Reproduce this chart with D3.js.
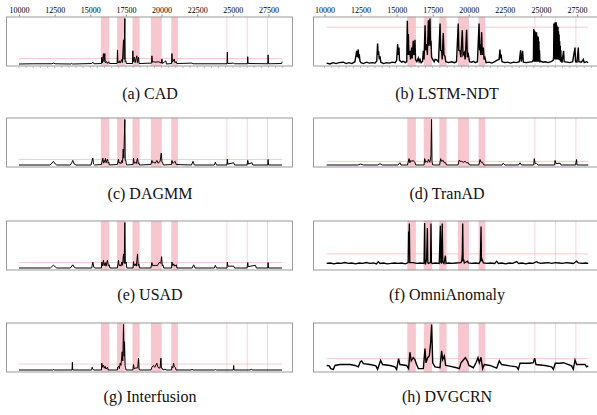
<!DOCTYPE html>
<html><head><meta charset="utf-8">
<script src="https://cdn.jsdelivr.net/npm/d3@7"></script>
<style>
body{margin:0;background:#fff;}
svg{display:block;}
</style></head>
<body><svg id="c" width="597" height="415"></svg>
<script>
// ---------- DATA ----------
const captions = ["(a) CAD","(b) LSTM-NDT","(c) DAGMM","(d) TranAD","(e) USAD","(f) OmniAnomaly","(g) Interfusion","(h) DVGCRN"];
const tickValues = [10000,12500,15000,17500,20000,22500,25000,27500];
const anomalyBands = [[15740,16335],[16880,17460],[17960,18460],[19250,20010],[20680,21145]];
const anomalyLines = [24580,26010,27425];
const thresholds = [0.12,0.81,0.12,0.08,0.12,0.31,0.13,0.25];

const cadScores = [[10000,0],[11000,0.005],[12300,0.005],[12412,0.02],[12530,0.005],[13650,0],[13700,0.015],[13760,0],[15100,0.01],[15176,0.04],[15250,0.005],[15780,0.01],[15808,0.15],[15840,0.02],[15925,0.23],[15960,0.05],[16019,0.23],[16050,0.03],[16159,0.05],[16200,0.01],[16300,0.05],[16340,0.01],[16880,0.01],[16909,0.31],[16940,0.02],[17049,0.07],[17080,0.02],[17213,0.1],[17250,0.03],[17330,0.53],[17370,0.1],[17424,1.0],[17450,0.05],[17494,0.07],[17530,0.01],[17960,0.01],[17986,0.29],[18020,0.05],[18103,0.15],[18140,0.03],[18267,0.18],[18300,0.03],[18384,0.15],[18420,0.01],[19300,0.02],[19321,0.18],[19360,0.04],[19438,0.05],[19600,0.04],[19790,0.05],[19990,0.02],[20024,0.11],[20060,0.01],[20305,0.07],[20340,0.0],[20700,0.01],[20726,0.23],[20760,0.04],[20890,0.11],[20930,0.03],[21031,0.05],[21070,0.01],[22132,0.02],[22200,0.005],[24590,0.005],[24614,0.26],[24640,0.01],[25059,0.02],[25100,0.005],[26020,0.005],[26043,0.16],[26070,0.01],[27450,0.005],[27471,0.2],[27500,0.005],[28420,0.01],[28455,0.05]];

const lstmScores = [[10150,0.02],[10380,0.0],[10600,0.03],[10800,0.01],[11000,0.03],[11310,0.04],[11500,0.01],[11700,0.03],[11900,0.01],[12110,0.05],[12230,0.29],[12280,0.15],[12340,0.32],[12380,0.12],[12410,0.21],[12460,0.06],[12530,0.03],[12700,0.01],[12920,0.04],[13100,0.02],[13300,0.03],[13500,0.02],[13620,0.06],[13680,0.45],[13720,0.2],[13750,0.28],[13800,0.1],[13850,0.17],[13900,0.04],[14100,0.01],[14300,0.03],[14500,0.02],[14700,0.04],[14900,0.03],[15000,0.08],[15070,0.44],[15110,0.2],[15160,0.36],[15200,0.08],[15350,0.04],[15460,0.06],[15600,0.03],[15700,0.05],[15740,0.95],[15780,0.2],[15810,0.66],[15850,0.2],[15920,0.29],[15960,0.1],[16040,0.36],[16080,0.12],[16150,0.51],[16200,0.2],[16270,0.53],[16310,0.1],[16400,0.05],[16500,0.13],[16560,0.05],[16620,0.1],[16700,0.03],[16800,0.06],[16850,0.29],[16900,0.1],[16970,0.85],[17010,0.3],[17080,0.44],[17130,0.2],[17200,0.96],[17240,0.4],[17310,1.0],[17350,0.4],[17380,0.51],[17420,0.15],[17500,0.1],[17600,0.05],[17660,0.1],[17780,0.09],[17900,0.05],[18010,0.89],[18050,0.3],[18120,0.29],[18160,0.1],[18230,0.68],[18280,0.2],[18350,0.17],[18400,0.05],[18600,0.03],[18800,0.05],[19000,0.03],[19150,0.05],[19270,0.89],[19310,0.3],[19390,0.29],[19450,0.15],[19550,0.74],[19600,0.2],[19690,0.25],[19750,0.1],[19850,0.75],[19900,0.15],[19970,0.21],[20050,0.05],[20200,0.04],[20310,0.06],[20450,0.03],[20600,0.05],[20710,0.89],[20750,0.3],[20780,0.44],[20830,0.2],[20890,0.7],[20940,0.2],[21010,0.36],[21060,0.1],[21120,0.14],[21200,0.03],[21400,0.04],[21600,0.02],[21800,0.05],[21930,0.08],[22100,0.1],[22160,0.32],[22200,0.12],[22230,0.21],[22300,0.05],[22500,0.03],[22700,0.04],[22900,0.02],[23100,0.04],[23300,0.03],[23500,0.05],[23590,0.3],[23640,0.05],[23730,0.29],[23780,0.04],[24000,0.03],[24200,0.04],[24400,0.05],[24480,0.1],[24500,0.77],[24520,0.05],[24540,0.74],[24560,0.1],[24580,0.72],[24600,0.05],[24620,0.7],[24640,0.1],[24660,0.68],[24680,0.05],[24700,0.7],[24720,0.1],[24740,0.62],[24760,0.05],[24780,0.58],[24800,0.1],[24820,0.6],[24840,0.05],[24860,0.5],[24880,0.08],[24900,0.3],[24930,0.05],[25000,0.06],[25150,0.04],[25300,0.05],[25500,0.03],[25700,0.05],[25850,0.08],[25880,0.15],[25900,0.89],[25920,0.1],[25940,0.85],[25960,0.1],[25980,0.92],[26000,0.1],[26020,0.88],[26040,0.1],[26060,0.92],[26080,0.1],[26100,0.85],[26120,0.1],[26140,0.8],[26160,0.1],[26180,0.82],[26200,0.1],[26220,0.72],[26240,0.1],[26260,0.65],[26280,0.08],[26300,0.5],[26320,0.08],[26340,0.4],[26360,0.05],[26380,0.3],[26400,0.05],[26430,0.15],[26460,0.03],[26570,0.29],[26610,0.05],[26800,0.04],[27000,0.03],[27200,0.05],[27360,0.36],[27400,0.05],[27500,0.04],[27590,0.36],[27630,0.05],[27800,0.04],[27940,0.1],[28000,0.03],[28150,0.05],[28280,0.03]];

const dagmmScores = [[10000,0],[12150,0],[12250,0.02],[12412,0.08],[12550,0.02],[12650,0],[13600,0],[13700,0.05],[13770,0.1],[13880,0.02],[14000,0],[15050,0],[15176,0.15],[15230,0.02],[15300,0],[15780,0.01],[15878,0.15],[15930,0.04],[15972,0.1],[16019,0.06],[16066,0.15],[16110,0.05],[16206,0.13],[16260,0.04],[16300,0.06],[16340,0.0],[16900,0.01],[16979,0.13],[17020,0.04],[17096,0.06],[17150,0.03],[17213,0.1],[17260,0.05],[17307,0.35],[17350,0.15],[17424,1.0],[17450,0.1],[17494,0.1],[17540,0.0],[18000,0.01],[18033,0.15],[18080,0.04],[18150,0.06],[18220,0.03],[18314,0.15],[18360,0.03],[18408,0.05],[18450,0.0],[19250,0.01],[19321,0.1],[19380,0.05],[19438,0.06],[19555,0.04],[19672,0.1],[19750,0.04],[19900,0.08],[19977,0.26],[20030,0.06],[20071,0.06],[20120,0.0],[20700,0.01],[20726,0.1],[20790,0.04],[20843,0.05],[20960,0.08],[21020,0.01],[22100,0.0],[22202,0.08],[22300,0.0],[23700,0],[23771,0.06],[23850,0],[24590,0],[24614,0.13],[24650,0.02],[25059,0.05],[25120,0],[26000,0],[26043,0.1],[26100,0.02],[26347,0.05],[26400,0],[27450,0],[27471,0.12],[27500,0.0],[28455,0]];

const tranadScores = [[10150,0],[12300,0],[12500,0.02],[12700,0],[13700,0],[13850,0.03],[14000,0],[15100,0],[15230,0.05],[15300,0],[15750,0],[15860,0.14],[15920,0.05],[15990,0.1],[16040,0.08],[16150,0.1],[16270,0.05],[16330,0],[16900,0],[16940,0.14],[17010,0.06],[17080,0.08],[17150,0.06],[17200,0.12],[17300,0.06],[17380,0.2],[17420,1.0],[17450,0.08],[17500,0],[17980,0],[18050,0.14],[18120,0.08],[18230,0.1],[18300,0.05],[18400,0.05],[18450,0],[19250,0],[19340,0.11],[19400,0.08],[19510,0.08],[19620,0.06],[19740,0.08],[19850,0.05],[19970,0.05],[20050,0],[20700,0],[20780,0.12],[20850,0.06],[20940,0.06],[21050,0],[22300,0],[22390,0.04],[22500,0],[23450,0],[23550,0.05],[23650,0],[24500,0],[24540,0.14],[24600,0.03],[24700,0.03],[24800,0],[25950,0],[25980,0.1],[26050,0.03],[26330,0.04],[26400,0],[27400,0],[27470,0.12],[27500,0.0],[28280,0]];

const usadScores = [[10000,0],[12200,0],[12300,0.03],[12412,0.06],[12530,0.03],[12650,0],[13600,0],[13770,0.07],[13900,0.01],[14000,0],[15100,0],[15176,0.13],[15250,0.02],[15300,0],[15780,0],[15808,0.13],[15860,0.05],[15925,0.17],[15970,0.05],[16042,0.12],[16100,0.04],[16206,0.17],[16260,0.05],[16323,0.07],[16380,0],[16900,0],[16979,0.17],[17020,0.05],[17096,0.07],[17150,0.04],[17213,0.13],[17260,0.06],[17330,0.31],[17380,0.1],[17424,1.0],[17460,0.1],[17518,0.13],[17560,0],[18000,0],[18033,0.14],[18080,0.05],[18150,0.09],[18230,0.04],[18314,0.31],[18360,0.05],[18408,0.09],[18450,0],[19250,0],[19321,0.12],[19380,0.05],[19555,0.06],[19700,0.05],[19860,0.13],[19950,0.1],[20001,0.25],[20050,0.05],[20094,0.07],[20150,0],[20700,0],[20726,0.13],[20790,0.05],[20843,0.09],[20930,0.04],[21031,0.07],[21080,0],[22150,0],[22249,0.07],[22350,0],[23700,0],[23771,0.06],[23850,0],[24590,0],[24614,0.13],[24650,0.04],[25059,0.04],[25120,0],[26000,0],[26043,0.12],[26080,0.03],[26581,0.06],[26650,0],[27450,0],[27471,0.12],[27500,0],[28455,0]];

const omniScores = [[10150,0.1],[10400,0.11],[10650,0.09],[10900,0.11],[11150,0.1],[11400,0.12],[11650,0.1],[11900,0.11],[12150,0.09],[12400,0.11],[12650,0.1],[12900,0.12],[13150,0.1],[13400,0.11],[13600,0.09],[13730,0.14],[13850,0.1],[14100,0.11],[14350,0.09],[14600,0.1],[14850,0.11],[15100,0.1],[15350,0.11],[15600,0.09],[15800,0.12],[15830,0.8],[15850,0.3],[15880,0.98],[15910,0.12],[15990,0.12],[16150,0.12],[16400,0.1],[16650,0.11],[16900,0.1],[16940,0.99],[16970,0.12],[17010,0.1],[17080,0.2],[17130,0.88],[17160,0.12],[17200,0.1],[17350,0.12],[17380,0.98],[17410,0.12],[17460,0.1],[17700,0.11],[17950,0.1],[18030,0.93],[18060,0.12],[18100,0.11],[18160,0.98],[18200,0.12],[18280,0.1],[18380,0.27],[18420,0.1],[18600,0.11],[18850,0.1],[19100,0.11],[19450,0.12],[19510,0.15],[19550,0.3],[19580,0.98],[19610,0.15],[19640,0.19],[19690,0.11],[19920,0.15],[19970,0.11],[20200,0.1],[20450,0.11],[20700,0.1],[20800,0.15],[20850,0.91],[20880,0.15],[20920,0.19],[21010,0.11],[21250,0.1],[21500,0.11],[21800,0.1],[21930,0.15],[22050,0.1],[22300,0.11],[22550,0.09],[22800,0.11],[23050,0.1],[23320,0.14],[23450,0.1],[23700,0.11],[23950,0.09],[24200,0.11],[24450,0.1],[24700,0.14],[24800,0.12],[25000,0.1],[25250,0.11],[25500,0.12],[25750,0.1],[26000,0.12],[26250,0.11],[26500,0.1],[26750,0.12],[27000,0.11],[27250,0.1],[27470,0.15],[27600,0.11],[27850,0.1],[28100,0.11],[28280,0.1]];

const interfusionScores = [[10000,0],[12350,0],[12412,0.01],[12500,0],[13720,0],[13745,0.17],[13770,0],[15100,0],[15130,0.06],[15180,0.02],[15250,0],[15780,0],[15808,0.15],[15860,0.06],[15925,0.11],[15980,0.04],[16042,0.08],[16100,0.02],[16206,0.06],[16260,0],[16900,0],[16909,0.06],[16979,0.08],[17040,0.03],[17096,0.15],[17150,0.1],[17237,0.4],[17280,0.2],[17330,1.0],[17370,0.3],[17400,0.62],[17440,0.1],[17471,0.06],[17510,0],[17990,0],[18033,0.12],[18080,0.03],[18150,0.04],[18330,0.05],[18384,0.26],[18420,0.02],[18460,0],[19250,0],[19321,0.06],[19438,0.1],[19520,0.06],[19672,0.15],[19720,0.08],[19813,0.04],[19900,0.05],[19954,0.26],[19990,0.04],[20047,0.04],[20100,0],[20258,0.02],[20300,0],[20700,0],[20726,0.08],[20790,0.05],[20843,0.15],[20890,0.08],[20960,0.06],[21020,0],[22100,0],[22132,0.02],[22200,0],[23700,0],[23771,0.01],[23850,0],[25030,0],[25059,0.1],[25080,0.0],[26200,0],[26300,0.015],[26400,0],[28455,0]];

const dvgcrnScores = [[10150,0.1],[10335,0.09],[10427,0.03],[10612,0.015],[10728,0.1],[11074,0.12],[11767,0.12],[12114,0.1],[12345,0.07],[12483,0.18],[12576,0.2],[12691,0.14],[13153,0.12],[13564,0.09],[13680,0.015],[13795,0.12],[13888,0.21],[14026,0.12],[14535,0.1],[14881,0.07],[14997,0.015],[15135,0.25],[15227,0.12],[15689,0.1],[15828,0.03],[15920,0.39],[16012,0.2],[16151,0.27],[16266,0.23],[16382,0.12],[16503,0.03],[16850,0.03],[16965,0.47],[17034,0.16],[17150,0.27],[17265,0.31],[17357,0.6],[17426,1.0],[17500,0.16],[17657,0.07],[18004,0.05],[18119,0.42],[18189,0.23],[18305,0.31],[18397,0.1],[18582,0.09],[19160,0.05],[19345,0.03],[19460,0.16],[19622,0.22],[19761,0.27],[19899,0.2],[20014,0.1],[20314,0.05],[20499,0.16],[20638,0.27],[20730,0.16],[20846,0.28],[20961,0.03],[21076,0.12],[21469,0.1],[21931,0.04],[22116,0.2],[22278,0.12],[22856,0.09],[23318,0.07],[23433,0.015],[23549,0.15],[24242,0.15],[24473,0.16],[24565,0.26],[24658,0.12],[25282,0.1],[25744,0.07],[25860,0.015],[25998,0.15],[26321,0.15],[26552,0.16],[27129,0.09],[27245,0.015],[27361,0.22],[27476,0.12],[28054,0.12],[28170,0.07],[28285,0.09]];

const seriesList = [cadScores,lstmScores,dagmmScores,tranadScores,usadScores,omniScores,interfusionScores,dvgcrnScores];

// ---------- DRAW ----------
const svg = d3.select("#c");
const colBox = [[6,293],[313,600]];
const colRange = [[19,268.5],[324.5,577]];
const rowTop = [16.5,117.5,220.5,322.5];
const boxH = 50;
const capY = [99,199,300,402];
const capX = [150,447];
const serif = "'Liberation Serif','Times New Roman',serif";
const widths = [1,1.4,1,1,1,1.3,1,1.4];

seriesList.forEach((data,i)=>{
  const col = i%2, row = Math.floor(i/2);
  const x = d3.scaleLinear().domain([10000,27500]).range(colRange[col]);
  const top = rowTop[row], bottom = top+boxH;
  const y = d3.scaleLinear().domain([0,1]).range([bottom-2.5, top+2]);
  const g = svg.append("g");
  const x0 = colBox[col][0], x1 = colBox[col][1];
  g.append("rect").attr("x",x0).attr("y",top).attr("width",x1-x0).attr("height",boxH).attr("fill","#fff");
  const clipId = "clip"+i;
  g.append("clipPath").attr("id",clipId).append("rect").attr("x",x0).attr("y",top).attr("width",x1-x0).attr("height",boxH);
  const inner = g.append("g").attr("clip-path",`url(#${clipId})`);
  inner.selectAll("rect.band").data(anomalyBands).enter().append("rect")
    .attr("x",d=>x(d[0])).attr("width",d=>x(d[1])-x(d[0]))
    .attr("y",top).attr("height",boxH).attr("fill","#f7c7d0");
  inner.selectAll("line.al").data(anomalyLines).enter().append("line")
    .attr("x1",d=>x(d)).attr("x2",d=>x(d)).attr("y1",top).attr("y2",bottom)
    .attr("stroke","#f8d3da").attr("stroke-width",1);
  const xs = d3.extent(data,d=>d[0]);
  inner.append("line").attr("x1",x(xs[0])).attr("x2",x(xs[1]))
    .attr("y1",y(thresholds[i])).attr("y2",y(thresholds[i]))
    .attr("stroke","#f5bcbc").attr("stroke-width",0.8);
  const line = d3.line().x(d=>x(d[0])).y(d=>y(d[1]));
  inner.append("path").attr("d",line(data)).attr("fill","none")
    .attr("stroke","#000").attr("stroke-width", widths[i]).attr("stroke-linejoin","miter");
  g.append("rect").attr("x",x0+0.5).attr("y",top+0.5).attr("width",x1-x0-1).attr("height",boxH-1)
    .attr("fill","none").attr("stroke","#9a9a9a").attr("stroke-width",1);
  if(row===0){
    const ax = g.append("g").attr("transform",`translate(0,${top})`)
      .call(d3.axisTop(x).tickValues(tickValues).tickFormat(d3.format("d")).tickSize(2).tickPadding(2));
    ax.select(".domain").remove();
    ax.selectAll("line").attr("stroke","#888");
    ax.selectAll("text").attr("font-family",serif).attr("font-size","8px").attr("fill","#000");
    const minor = d3.range(10000,28501,500);
    g.selectAll("line.mb").data(minor).enter().append("line")
      .attr("x1",d=>x(d)).attr("x2",d=>x(d)).attr("y1",bottom).attr("y2",bottom+1.5)
      .attr("stroke","#888").attr("stroke-width",0.6);
  }
  svg.append("text").attr("x",capX[col]).attr("y",capY[row]).attr("text-anchor","middle")
    .attr("font-family",serif).attr("font-size","16px").attr("fill","#111").text(captions[i]);
});
</script></body></html>
